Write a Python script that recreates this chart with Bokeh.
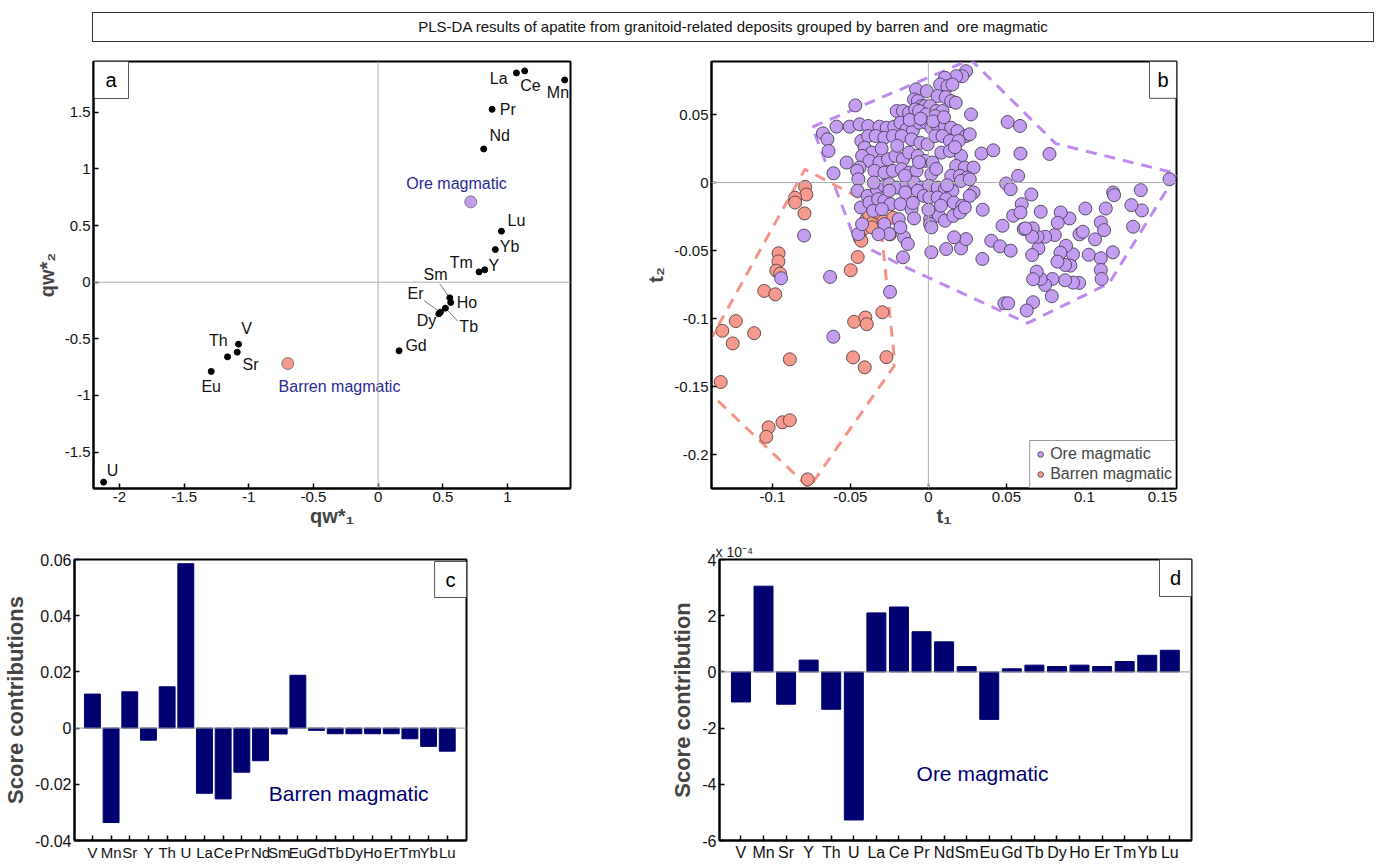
from bokeh.plotting import figure
from bokeh.models import Span, Div, FixedTicker, Legend, LegendItem, Range1d, ColumnDataSource
from bokeh.layouts import column, row
from bokeh.embed import file_html
from bokeh.resources import INLINE
from bokeh.core.properties import value

NARROW = "Liberation Sans"
BOLD = "Liberation Sans"
PURPLE = "#C49CF2"
ORANGE = "#F59A8C"
PURPLE_LINE = "#BE8AF0"
ORANGE_LINE = "#F7948A"
NAVY = "#000070"

# ---------------- Panel a : loadings ----------------
a_elements = ["La", "Ce", "Mn", "Pr", "Nd", "Lu", "Yb", "Y", "Tm", "Sm", "Ho", "Er", "Dy", "Tb", "Gd", "V", "Th", "Sr", "Eu", "U"]
a_qw1 = [1.069, 1.133, 1.442, 0.881, 0.816, 0.953, 0.906, 0.824, 0.780, 0.554, 0.561, 0.482, 0.469, 0.520, 0.162, -1.079, -1.164, -1.089, -1.290, -2.122]
a_qw2 = [1.847, 1.865, 1.785, 1.526, 1.176, 0.450, 0.288, 0.109, 0.091, -0.138, -0.179, -0.265, -0.279, -0.229, -0.606, -0.547, -0.659, -0.618, -0.788, -1.765]
a_groups = ["Ore magmatic", "Barren magmatic"]
a_group_qw1 = [0.716, -0.698]
a_group_qw2 = [0.709, -0.718]
a_xticks = [-2, -1.5, -1, -0.5, 0, 0.5, 1]
a_yticks = [-1.5, -1, -0.5, 0, 0.5, 1, 1.5]

# ---------------- Panel b : scores ----------------
ore_t1 = [0.0241, 0.0217, 0.0178, 0.0106, 0.0075, 0.0122, 0.0154,
          -0.0079, -0.0010, 0.0059, 0.0111, 0.0146, 0.0175, -0.0468, -0.0092, -0.0068, -0.0044, -0.0021, 0.0011,
          -0.0203, -0.0163, -0.0124, -0.0084, -0.0060, -0.0013, 0.0051, 0.0075, 0.0090, 0.0273, 0.0043,
          -0.0676, -0.0589, -0.0505, -0.0441, -0.0386, -0.0314, -0.0267, -0.0219, -0.0179, -0.0140, -0.0100, -0.0060, -0.0013, 0.0019, 0.0059, 0.0106, 0.0146, 0.0186, 0.0241, 0.0265, -0.0647, -0.0640,
          -0.0430, -0.0386, -0.0338, -0.0282, -0.0227, -0.0171, -0.0108, -0.0052, -0.0005, 0.0043, 0.0090, 0.0138, 0.0194, -0.0409, -0.0362,
          -0.0524, -0.0608, -0.0425, -0.0378, -0.0314, -0.0259, -0.0211, -0.0163, -0.0124, -0.0068, -0.0021, 0.0027, 0.0083, 0.0138, 0.0209, 0.0178, 0.0233, 0.0289, -0.0441,
          -0.0457, -0.0449, -0.0346, -0.0282, -0.0227, -0.0171, -0.0124, -0.0076, 0.0019, 0.0146, 0.0202, 0.0249,
          -0.0454, -0.0390, -0.0330, -0.0282, -0.0251, -0.0203, -0.0140, -0.0092, -0.0044, 0.0003, 0.0059, 0.0106, 0.0154, 0.0209, 0.0265, 0.0289,
          -0.0433, -0.0378, -0.0322, -0.0282, -0.0243, -0.0179, -0.0148, -0.0108, -0.0068, -0.0029, 0.0006, 0.0059, 0.0114, 0.0162, 0.0217, 0.0265,
          -0.0354, -0.0298, -0.0190, -0.0092, 0.0011, 0.0067, 0.0106, 0.0159, 0.0202, 0.0233,
          -0.0449, -0.0425, -0.0282, -0.0251, -0.0156, -0.0132, 0.0011, 0.0019,
          -0.0163, 0.0019, 0.0114, 0.0209, 0.0241, 0.0165,
          0.0340, 0.0416, 0.0508, 0.0587, 0.0590, 0.0575, 0.0498, 0.0527, 0.0348, 0.0598, 0.0543, 0.0590, 0.0475, 0.0611, 0.0346, 0.0403, 0.0459, 0.0527,
          0.1545, 0.1361, 0.1368, 0.1301, 0.1312, 0.1184, 0.1190, 0.1137, 0.1006, 0.1068, 0.1028, 0.1105, 0.1126, 0.1182, 0.1105, 0.1105, 0.1110,
          0.0968, 0.0990, 0.0927, 0.0910, 0.0966, 0.0927, 0.0876, 0.0876, 0.0882, 0.0904, 0.0848, 0.0846, 0.0827, 0.0795, 0.0791, 0.0748, 0.0720,
          0.0694, 0.0671, 0.0810, 0.0829, 0.0748, 0.0720, 0.0660, 0.0705, 0.0699, 0.0669, 0.0665, 0.0665, 0.0622, 0.0671, 0.0630, 0.0487, 0.0511, 0.0776,
          -0.0797, -0.0944, -0.0609, -0.0630, -0.0246,
          -0.0120, -0.0050, 0.0030, 0.0100, -0.0200, -0.0300, 0.0170, -0.0150, -0.0060, 0.0050, -0.0350, -0.0250, 0.0120, -0.0100, 0.0000, 0.0080, -0.0180, -0.0320]
ore_t2 = [0.0819, 0.0782, 0.0782, 0.0770, 0.0721, 0.0709, 0.0721,
          0.0685, 0.0672, 0.0636, 0.0628, 0.0599, 0.0587, 0.0567, 0.0611, 0.0599, 0.0562, 0.0562, 0.0562,
          0.0526, 0.0526, 0.0513, 0.0538, 0.0526, 0.0501, 0.0526, 0.0501, 0.0526, 0.0501, 0.0489,
          0.0362, 0.0411, 0.0411, 0.0428, 0.0416, 0.0411, 0.0403, 0.0411, 0.0440, 0.0391, 0.0379, 0.0440, 0.0440, 0.0403, 0.0416, 0.0416, 0.0403, 0.0379, 0.0342, 0.0355, 0.0318, 0.0232,
          0.0306, 0.0342, 0.0342, 0.0330, 0.0342, 0.0342, 0.0318, 0.0293, 0.0281, 0.0342, 0.0342, 0.0306, 0.0306, 0.0257, 0.0220,
          0.0147, 0.0068, 0.0196, 0.0159, 0.0147, 0.0171, 0.0196, 0.0171, 0.0220, 0.0196, 0.0159, 0.0147, 0.0220, 0.0232, 0.0196, 0.0122, 0.0110, 0.0110, 0.0110,
          0.0086, 0.0024, 0.0086, 0.0073, 0.0086, 0.0098, 0.0073, 0.0086, 0.0061, 0.0049, 0.0049, 0.0037,
          -0.0061, -0.0098, -0.0049, -0.0024, -0.0012, -0.0037, -0.0012, 0.0000, -0.0037, -0.0024, -0.0037, -0.0049, -0.0061, 0.0012, 0.0024, -0.0073,
          -0.0183, -0.0147, -0.0122, -0.0134, -0.0159, -0.0159, -0.0073, -0.0196, -0.0061, -0.0098, -0.0110, -0.0110, -0.0122, -0.0147, -0.0171, -0.0098,
          -0.0208, -0.0196, -0.0269, -0.0264, -0.0269, -0.0245, -0.0281, -0.0245, -0.0220, -0.0183,
          -0.0379, -0.0306, -0.0306, -0.0379, -0.0403, -0.0452, -0.0306, -0.0330,
          -0.0550, -0.0513, -0.0489, -0.0484, -0.0416, -0.0403,
          0.0213, 0.0237, 0.0445, 0.0416, 0.0213, 0.0049, -0.0007, -0.0049, -0.0200, -0.0159, -0.0244, -0.0220, -0.0318, -0.0342, -0.0562, -0.0428, -0.0469, -0.0501,
          0.0024, -0.0056, -0.0205, -0.0166, -0.0325, -0.0073, -0.0093, -0.0191, -0.0191, -0.0418, -0.0531, -0.0293, -0.0350, -0.0513, -0.0557, -0.0643, -0.0709,
          -0.0381, -0.0362, -0.0528, -0.0611, -0.0738, -0.0736, -0.0719, -0.0606, -0.0465, -0.0264, -0.0220, -0.0516, -0.0582, -0.0709, -0.0836, -0.0753, -0.0709,
          -0.0655, -0.0711, -0.0386, -0.0296, -0.0399, -0.0215, -0.0088, -0.0484, -0.0399, -0.0337, -0.0399, -0.0533, -0.0337, -0.0880, -0.0941, -0.0888, -0.0888, 0.0210,
          -0.0390, -0.0704, -0.1134, -0.0694, -0.0804,
          0.0460, 0.0470, 0.0450, 0.0480, 0.0270, 0.0250, 0.0260, 0.0050, 0.0150, 0.0100, 0.0000, -0.0060, -0.0020, -0.0150, -0.0200, -0.0170, -0.0330, -0.0380]
barren_t1 = [-0.0790, -0.0782, -0.0854, -0.0854, -0.0794, -0.0960, -0.0961, -0.0975, -0.0950, -0.1052, -0.0981,
             -0.1234, -0.1321, -0.1254, -0.1117, -0.0888, -0.1331, -0.1024, -0.1039, -0.0935, -0.0888, -0.0774,
             -0.0453, -0.0498, -0.0476, -0.0404, -0.0395, -0.0295, -0.0483, -0.0408, -0.0269,
             -0.0441, -0.0430, -0.0417, -0.0397, -0.0380, -0.0354, -0.0362, -0.0330, -0.0288, -0.0246, -0.0226]
barren_t2 = [-0.0032, -0.0088, -0.0112, -0.0147, -0.0227, -0.0520, -0.0580, -0.0648, -0.0670, -0.0797, -0.0822,
             -0.1019, -0.1090, -0.1183, -0.1108, -0.1300, -0.1467, -0.1800, -0.1870, -0.1763, -0.1748, -0.2183,
             -0.0548, -0.0645, -0.1024, -0.0993, -0.1042, -0.0954, -0.1286, -0.1359, -0.1284,
             -0.0403, -0.0428, -0.0342, -0.0269, -0.0235, -0.0293, -0.0330, -0.0220, -0.0284, -0.0381, -0.0259]
ore_hull_t1 = [-0.0744, 0.0271, 0.0816, 0.1592, 0.1158, 0.0635, -0.0177, -0.0466, -0.0744]
ore_hull_t2 = [0.0408, 0.0905, 0.0286, 0.0066, -0.0741, -0.1034, -0.0606, -0.0435, 0.0408]
barren_hull_t1 = [-0.1522, -0.0791, -0.0316, -0.0222, -0.0220, -0.0765, -0.1522]
barren_hull_t2 = [-0.1415, 0.0098, -0.0191, -0.1254, -0.1350, -0.2245, -0.1415]
b_xticks = [-0.1, -0.05, 0, 0.05, 0.1, 0.15]
b_yticks = [-0.2, -0.15, -0.1, -0.05, 0, 0.05]

# ---------------- Panels c and d : contributions ----------------
elements = ["V", "Mn", "Sr", "Y", "Th", "U", "La", "Ce", "Pr", "Nd", "Sm", "Eu", "Gd", "Tb", "Dy", "Ho", "Er", "Tm", "Yb", "Lu"]
barren_contrib = [0.0121, -0.0336, 0.0129, -0.0043, 0.0147, 0.0585, -0.0232, -0.0252, -0.0157, -0.0116, -0.0021, 0.0188, -0.0008, -0.0020, -0.0020, -0.0020, -0.0020, -0.0038, -0.0065, -0.0082]
ore_contrib_e4 = [-1.07, 3.05, -1.15, 0.42, -1.33, -5.27, 2.10, 2.31, 1.43, 1.07, 0.19, -1.69, 0.11, 0.24, 0.19, 0.24, 0.19, 0.37, 0.59, 0.77]
c_yticks = [-0.04, -0.02, 0, 0.02, 0.04, 0.06]
d_yticks = [-6, -4, -2, 0, 2, 4]


def fmt(v):
    return "%g" % v


def style(p, xticks=None, yticks=None, size="15px"):
    p.outline_line_color = "black"
    p.outline_line_width = 2
    p.xgrid.visible = False
    p.ygrid.visible = False
    p.background_fill_color = "white"
    p.border_fill_color = "white"
    for ax in (p.xaxis[0], p.yaxis[0]):
        ax.major_tick_in = 5
        ax.major_tick_out = 0
        ax.minor_tick_line_color = None
        ax.axis_line_width = 2
        ax.major_tick_line_width = 1.5
        ax.major_label_text_font = NARROW
        ax.major_label_text_font_size = size
        ax.major_label_text_color = "#111111"
        ax.major_label_standoff = 3
        ax.axis_label_text_font = BOLD
        ax.axis_label_text_font_style = "bold"
        ax.axis_label_text_font_size = "20px"
        ax.axis_label_standoff = 4
    if xticks is not None:
        p.xaxis[0].ticker = FixedTicker(ticks=xticks)
        p.xaxis[0].major_label_overrides = {t: fmt(t) for t in xticks}
    if yticks is not None:
        p.yaxis[0].ticker = FixedTicker(ticks=yticks)
        p.yaxis[0].major_label_overrides = {t: fmt(t) for t in yticks}


def corner_box(p, xr, yr, fw, fh, letter, left_px, top_px, w_px, h_px):
    sx = (xr[1] - xr[0]) / fw
    sy = (yr[1] - yr[0]) / fh
    x0 = xr[0] + left_px * sx
    x1 = x0 + w_px * sx
    y1 = yr[1] - top_px * sy
    y0 = y1 - h_px * sy
    p.quad(left=[x0], right=[x1], bottom=[y0], top=[y1], fill_color="white", line_color="#555555", line_width=1)
    p.text(x=[(x0 + x1) / 2], y=[(y0 + y1) / 2], text=[letter], text_align="center", text_baseline="middle",
           text_font=value("Liberation Sans"), text_font_size="20px", text_color="black")


# ---- a ----
AX = (-2.200, 1.487)
AY = (-1.821, 1.948)
AFW, AFH = 477, 427
pa = figure(width=640, height=485, x_range=Range1d(*AX), y_range=Range1d(*AY),
            output_backend="svg", toolbar_location=None,
            min_border_left=93, min_border_right=70, min_border_top=11, min_border_bottom=47)
style(pa, a_xticks, a_yticks)
pa.xaxis.axis_label = "qw*\u2081"
pa.yaxis.axis_label = "qw*\u2082"
pa.xaxis.axis_label_standoff = 0
pa.add_layout(Span(location=0, dimension="width", line_color="#b0b0b0", line_width=1))
pa.add_layout(Span(location=0, dimension="height", line_color="#b0b0b0", line_width=1))

a_dx = [-17.7, 5.7, -6.7, 15.7, 16, 15, 14.3, 9, -17.7, -14.3, 16.3, -25, -12.3, 23.3, 17, 8, -9.3, 13.3, 0, 9]
a_dy = [5.3, 14.7, 13, -0.3, -13.3, -10.7, -3.3, -4.3, -9.7, -23.3, 0.3, -19, 6.7, 18.3, -5.3, -16, -16.3, 12.7, 15, -11.7]

ax_s = (AX[1] - AX[0]) / AFW
ay_s = (AY[1] - AY[0]) / AFH
lead = {"Sm": (-10, -14), "Er": (-16.7, -11.7), "Tb": (12.3, 13)}
for el, (ox, oy) in lead.items():
    i = a_elements.index(el)
    pa.segment(x0=[a_qw1[i] + ox * ax_s], y0=[a_qw2[i] - oy * ay_s], x1=[a_qw1[i]], y1=[a_qw2[i]],
               line_color="#777777", line_width=1)

pa.scatter(a_qw1, a_qw2, size=6, fill_color="black", line_color="black")
src_a = ColumnDataSource(dict(x=a_qw1, y=a_qw2, t=a_elements, dx=a_dx, dy=a_dy))
pa.text(x="x", y="y", text="t", x_offset="dx", y_offset="dy", source=src_a, text_align="center",
        text_baseline="middle", text_font=value(NARROW), text_font_size="16px", text_color="#111111")
pa.scatter(a_group_qw1, a_group_qw2, size=12, fill_color=[PURPLE, ORANGE], line_color="#666666", line_width=0.8)
src_g = ColumnDataSource(dict(x=a_group_qw1, y=a_group_qw2, t=a_groups, dx=[-14.3, 51.7], dy=[-18.7, 22.7]))
pa.text(x="x", y="y", text="t", x_offset="dx", y_offset="dy", source=src_g, text_align="center",
        text_baseline="middle", text_font=value(NARROW), text_font_size="16px", text_color="#2a2a96")
corner_box(pa, AX, AY, AFW, AFH, "a", 0, 0, 35, 37)

# ---- b ----
BX = (-0.139, 0.159)
BY = (-0.225, 0.089)
BFW, BFH = 465, 429
pb = figure(width=746, height=485, x_range=Range1d(*BX), y_range=Range1d(*BY),
            output_backend="svg", toolbar_location=None,
            min_border_left=71, min_border_right=210, min_border_top=10, min_border_bottom=46)
style(pb, b_xticks, b_yticks)
pb.xaxis.axis_label = "t\u2081"
pb.yaxis.axis_label = "t\u2082"
pb.xaxis.axis_label_standoff = 0
pb.add_layout(Span(location=0, dimension="width", line_color="#b0b0b0", line_width=1))
pb.add_layout(Span(location=0, dimension="height", line_color="#b0b0b0", line_width=1))
pb.line(barren_hull_t1, barren_hull_t2, line_color=ORANGE_LINE, line_width=3, line_dash="11 8")
pb.line(ore_hull_t1, ore_hull_t2, line_color=PURPLE_LINE, line_width=3, line_dash="11 8")
r_bar = pb.scatter(barren_t1, barren_t2, size=13, fill_color=ORANGE, line_color="#5a4040", line_width=0.9)
r_ore = pb.scatter(ore_t1, ore_t2, size=13, fill_color=PURPLE, line_color="#463f55", line_width=0.9)
leg = Legend(items=[LegendItem(label="Ore magmatic", renderers=[r_ore]),
                    LegendItem(label="Barren magmatic", renderers=[r_bar])],
             location="bottom_right")
leg.border_line_color = "#333333"
leg.border_line_width = 1
leg.margin = 0
leg.padding = 3
leg.spacing = 0
leg.label_text_font = NARROW
leg.label_text_font_size = "16px"
leg.label_height = 20
leg.glyph_height = 20
leg.glyph_width = 14
leg.label_standoff = 3
pb.add_layout(leg)
corner_box(pb, BX, BY, BFW, BFH, "b", 438, 0, 27, 37)

# ---- c ----
CX = (0.04, 21.03)
CY = (-0.04, 0.06)
CFW, CFH = 393, 281
idx = list(range(1, len(elements) + 1))
pc = figure(width=660, height=333, x_range=Range1d(*CX), y_range=Range1d(*CY),
            output_backend="svg", toolbar_location=None,
            min_border_left=73, min_border_right=194, min_border_top=24, min_border_bottom=28)
style(pc, None, c_yticks, size="16px")
pc.xaxis[0].ticker = FixedTicker(ticks=idx)
pc.xaxis[0].major_label_overrides = {i: e for i, e in zip(idx, elements)}
pc.xaxis[0].major_label_text_font_size = "15px"
pc.yaxis[0].major_label_overrides = {t: fmt(t) for t in c_yticks}
pc.yaxis.axis_label = "Score contributions"
pc.yaxis.axis_label_text_font_size = "22px"
pc.vbar(x=idx, top=barren_contrib, bottom=0, width=0.85, fill_color=NAVY, line_color=NAVY)
pc.add_layout(Span(location=0, dimension="width", line_color="#999999", line_width=1))
pc.text(x=[14.72], y=[-0.0232], text=["Barren magmatic"], text_align="center", text_baseline="middle",
        text_font=value(NARROW), text_font_size="21px", text_color=NAVY)
corner_box(pc, CX, CY, CFW, CFH, "c", 361, 2, 32, 36)

# ---- d ----
DX = (0.05, 20.96)
DY = (-6, 4)
DFW, DFH = 472, 281
pd = figure(width=726, height=333, x_range=Range1d(*DX), y_range=Range1d(*DY),
            output_backend="svg", toolbar_location=None,
            min_border_left=59, min_border_right=195, min_border_top=24, min_border_bottom=28,
            title="x 10\u207b\u2074")
pd.title.align = "left"
pd.title.text_font = NARROW
pd.title.text_font_style = "normal"
pd.title.text_font_size = "14px"
pd.title.text_color = "#222222"
pd.title.standoff = 0
pd.title.offset = -4
style(pd, None, d_yticks, size="16px")
pd.xaxis[0].ticker = FixedTicker(ticks=idx)
pd.xaxis[0].major_label_overrides = {i: e for i, e in zip(idx, elements)}
pd.yaxis.axis_label = "Score contribution"
pd.yaxis.axis_label_text_font_size = "22px"
pd.vbar(x=idx, top=ore_contrib_e4, bottom=0, width=0.84, fill_color=NAVY, line_color=NAVY)
pd.add_layout(Span(location=0, dimension="width", line_color="#999999", line_width=1))
pd.text(x=[11.7], y=[-3.62], text=["Ore magmatic"], text_align="center", text_baseline="middle",
        text_font=value(NARROW), text_font_size="21px", text_color=NAVY)
corner_box(pd, DX, DY, DFW, DFH, "d", 440, 0, 32, 37)

title = Div(text='<div style="width:1280px;height:28px;border:1px solid #333;box-sizing:content-box;'
                 'text-align:center;line-height:28px;font-family:\'Liberation Sans\',sans-serif;'
                 'font-size:15px;color:#111;">PLS-DA results of apatite from granitoid-related deposits '
                 'grouped by barren and&nbsp; ore magmatic</div>',
            width=1294, height=38, margin=(12, 0, 0, 92))

layout = column(title, row(pa, pb), row(pc, pd))
open("out.html", "w").write(file_html(layout, INLINE))
